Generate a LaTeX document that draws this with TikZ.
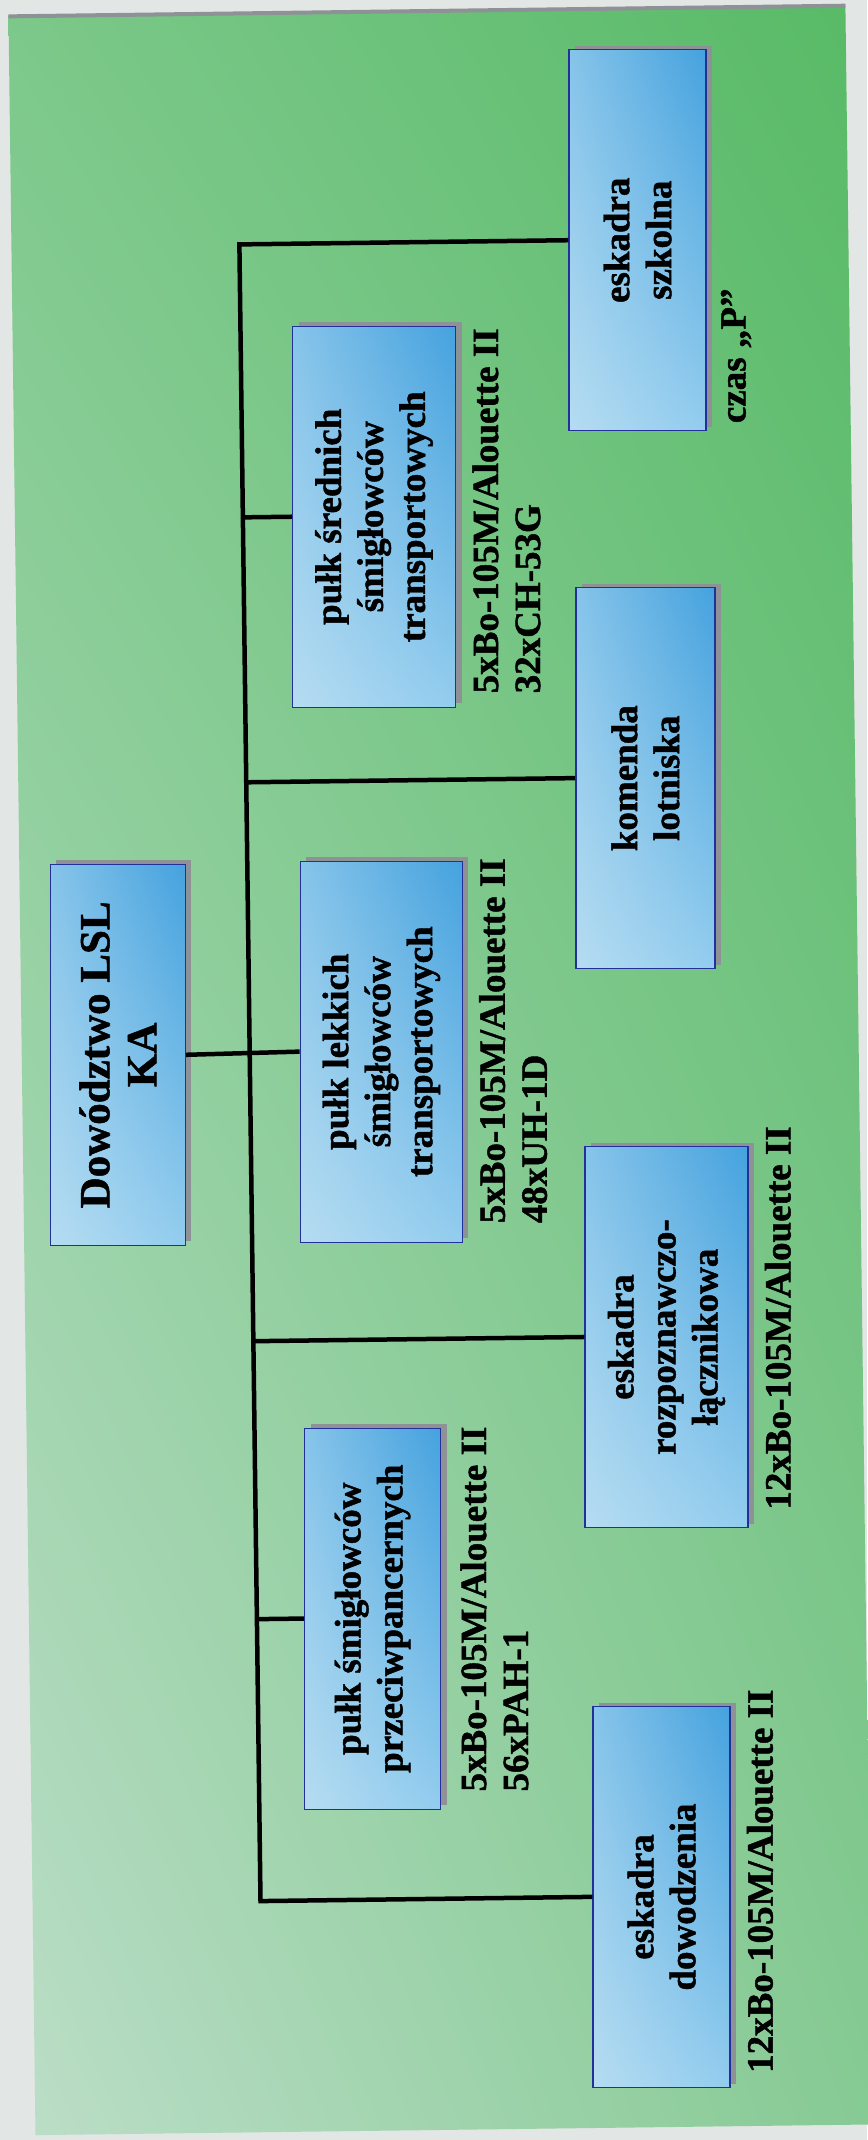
\documentclass[tikz,border=0pt]{standalone}
\usepackage{fontspec}
\setmainfont[BoldFeatures={FakeBold=1.2}]{Liberation Serif}
\usepackage{tikz}
\usetikzlibrary{shadings}

\definecolor{tloszare}{HTML}{E2E6E4}
\definecolor{zielLG}{HTML}{7CC88A}
\definecolor{zielPG}{HTML}{57BA66}
\definecolor{zielLD}{HTML}{BCDEC8}
\definecolor{zielPD}{HTML}{86CA94}
\definecolor{niebJasny}{HTML}{B5DCF1}
\definecolor{niebSredniG}{HTML}{86C4EA}
\definecolor{niebSredniD}{HTML}{92CCEE}
\definecolor{niebCiemny}{HTML}{45A2DE}
\definecolor{ramka}{HTML}{22309A}
\definecolor{cien}{HTML}{8E9196}

\newcommand{\jedfont}{\bfseries\fontsize{37}{42}\selectfont}
\newcommand{\dowfont}{\bfseries\fontsize{43}{47}\selectfont}
\newcommand{\sprfont}{\bfseries\fontsize{37}{42}\selectfont}

\tikzset{
    jednostka/.style={rotate=90, anchor=north, draw=ramka, line width=1.3pt,
        inner sep=0pt, align=center, font=\jedfont, minimum width=381pt,
        lower left=niebJasny, upper right=niebCiemny,
        upper left=niebSredniG, lower right=niebSredniD,
        preaction={fill=cien, transform canvas={xshift=6pt, yshift=4pt}}},
    sprzet/.style={rotate=90, anchor=north west, inner sep=0pt,
        align=left, font=\sprfont},
    linia/.style={line width=4.5pt, black}
}

\begin{document}
\begin{tikzpicture}[x=1pt, y=-1pt]

        %% ── Tło ─────────────────────────────────────────────────────────
        \fill[tloszare] (0,0) rectangle (867,2140);
        \useasboundingbox (0,0) rectangle (867,2140);

    \begin{scope}[rotate around={0.73:(433,1075)}]
        \shade[upper left=zielLG, upper right=zielPG,
               lower left=zielLD, lower right=zielPD]
            (22,10) rectangle (859,2130);
        \draw[cien, line width=4pt] (22,11) -- (859,11);

        %% ── Dowództwo ───────────────────────────────────────────────────
        \node[jednostka, font=\dowfont, minimum height=135pt]
            (dowodztwo) at (50,1050) {Dowództwo LSL\\KA};

        %% ── Lewa kolumna: pułki ─────────────────────────────────────────
        \node[jednostka, minimum height=163pt] (sredni) at (299,515)
            {pułk średnich\\śmigłowców\\transportowych};
        \node[jednostka, minimum height=162pt] (lekki) at (300,1050)
            {pułk lekkich\\śmigłowców\\transportowych};
        \node[jednostka, minimum height=136pt] (ppanc) at (297,1617)
            {pułk śmigłowców\\przeciwpancernych};

        %% ── Prawa kolumna: eskadry i komenda ────────────────────────────
        \node[jednostka, minimum height=137pt] (szkolna) at (579,242)
            {eskadra\\szkolna};
        \node[jednostka, minimum height=139pt] (komenda) at (579,780)
            {komenda\\lotniska};
        \node[jednostka, minimum height=163pt] (rozpozn) at (581,1339)
            {eskadra\\rozpoznawczo-\\łącznikowa};
        \node[jednostka, minimum height=137pt] (dowodz) at (582,1899)
            {eskadra\\dowodzenia};

        %% ── Sprzęt ──────────────────────────────────────────────────────
        \node[sprzet] (sprSzk) at (729,427) {czas „P”};
        \node[sprzet] (sprSre) at (477,694)
            {5xBo-105M/Alouette II\\32xCH-53G};
        \node[sprzet] (sprLek) at (477,1224)
            {5xBo-105M/Alouette II\\48xUH-1D};
        \node[sprzet] (sprRoz) at (759,1514) {12xBo-105M/Alouette II};
        \node[sprzet] (sprPpa) at (451,1792)
            {5xBo-105M/Alouette II\\56xPAH-1};
        \node[sprzet] (sprDow) at (734,2077) {12xBo-105M/Alouette II};

        %% ── Połączenia ──────────────────────────────────────────────────
        \coordinate (szyna) at (250,0);
        \draw[linia] (szkolna.north) -- (szkolna.north -| szyna)
            -- (dowodz.north -| szyna) -- (dowodz.north);
        \foreach \n in {sredni,komenda,rozpozn,ppanc}
            \draw[linia] (\n.north -| szyna) -- (\n.north);
        \draw[linia] (dowodztwo.south) -- (lekki.north);
    \end{scope}

\end{tikzpicture}
\end{document}
